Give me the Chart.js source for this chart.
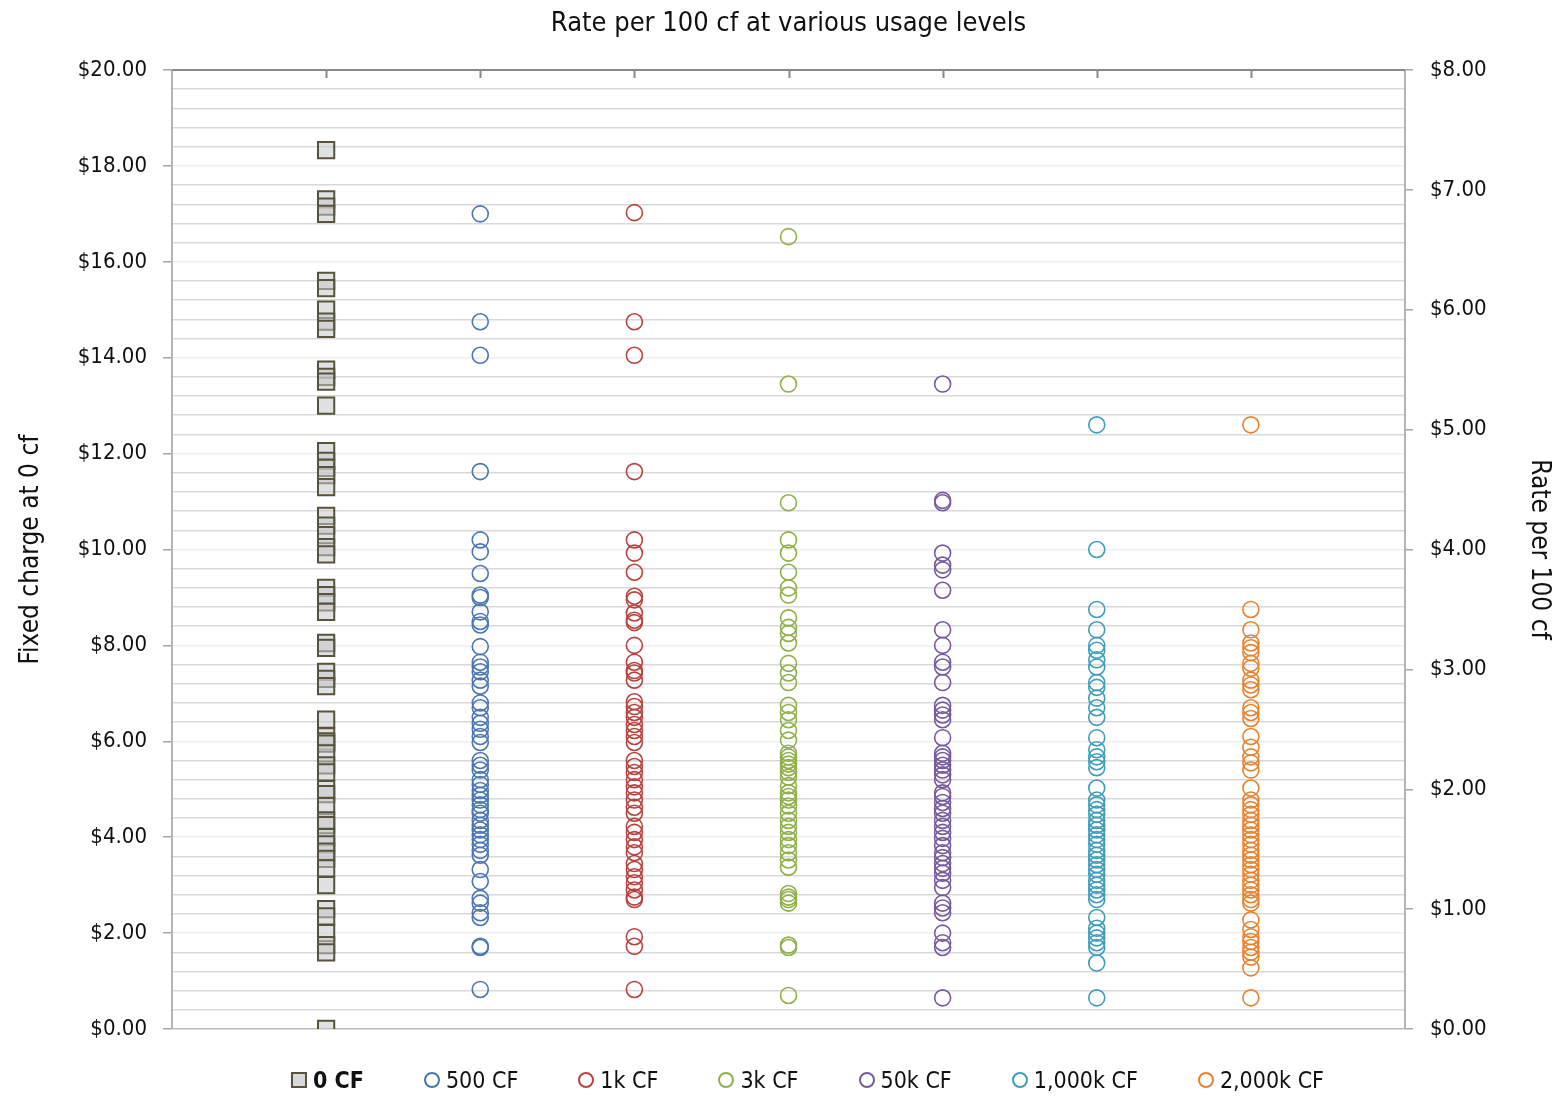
<!DOCTYPE html>
<html>
<head>
<meta charset="utf-8">
<script src="https://cdn.jsdelivr.net/npm/chart.js@4"></script>
<style>
body { margin: 0; background: #fff; }
#wrap { position: relative; width: 1564px; height: 1099px; }
#legend { position: absolute; left: 291px; top: 1067px; display: flex; align-items: center; gap: 60px;
  font-family: 'Liberation Sans Narrow', 'Arial Narrow', 'DejaVu Sans Condensed', sans-serif; font-size: 23px; color: #111; }
#legend .item { display: flex; align-items: center; gap: 6px; white-space: nowrap; }
#legend .mk { width: 13px; height: 13px; box-sizing: border-box; }
</style>
</head>
<body>
<div id="wrap">
  <canvas id="myChart"></canvas>
  <div id="legend"></div>
</div>
<script>
var FONT = "'Liberation Sans Narrow', 'Arial Narrow', 'DejaVu Sans Condensed', sans-serif";

var seriesNames = ['0 CF', '500 CF', '1k CF', '3k CF', '50k CF', '1,000k CF', '2,000k CF'];
var seriesColors = ['#58533c', '#4a76b4', '#b8423f', '#8fb04b', '#765a9e', '#3f9db9', '#e7832f'];

// fixed charge at 0 cf (left axis, $)
var fixed0 = [18.33, 17.3, 17.15, 17.0, 15.6, 15.45, 15.0, 14.75, 14.6, 13.75, 13.6, 13.5, 13.0,
  12.05, 11.85, 11.7, 11.55, 11.3, 10.7, 10.5, 10.3, 10.05, 9.9, 9.2, 9.05, 8.9, 8.7, 8.05, 7.95,
  7.45, 7.3, 7.15, 6.45, 6.1, 6.0, 5.95, 5.75, 5.5, 5.35, 5.0, 4.9, 4.65, 4.35, 4.25, 4.0, 3.85,
  3.7, 3.55, 3.35, 3.0, 2.5, 2.35, 2.0, 1.75, 1.6, 0];

// rate per 100 cf (right axis, $)
var rate500 = [6.8, 5.9, 5.62, 4.65, 4.08, 3.98, 3.8, 3.62, 3.6, 3.48, 3.4, 3.37, 3.19, 3.06, 3.02,
  2.98, 2.91, 2.86, 2.72, 2.68, 2.6, 2.55, 2.5, 2.44, 2.39, 2.24, 2.2, 2.16, 2.08, 2.04, 1.99, 1.95,
  1.91, 1.87, 1.83, 1.8, 1.74, 1.7, 1.66, 1.62, 1.58, 1.54, 1.49, 1.45, 1.33, 1.23, 1.09, 1.05,
  0.97, 0.93, 0.69, 0.68, 0.33];
var rate1k = [6.81, 5.9, 5.62, 4.65, 4.08, 3.97, 3.81, 3.61, 3.58, 3.47, 3.41, 3.39, 3.2, 3.06, 2.99,
  2.97, 2.91, 2.73, 2.69, 2.64, 2.6, 2.54, 2.49, 2.44, 2.39, 2.24, 2.19, 2.14, 2.08, 2.02, 1.97,
  1.91, 1.85, 1.8, 1.69, 1.64, 1.58, 1.52, 1.47, 1.38, 1.33, 1.27, 1.22, 1.16, 1.1, 1.08, 0.77,
  0.69, 0.33];
var rate3k = [6.61, 5.38, 4.39, 4.08, 3.97, 3.81, 3.68, 3.62, 3.43, 3.35, 3.3, 3.22, 3.05, 2.97, 2.89,
  2.7, 2.64, 2.58, 2.49, 2.41, 2.3, 2.27, 2.24, 2.21, 2.18, 2.14, 2.1, 2.03, 1.97, 1.94, 1.91, 1.86,
  1.8, 1.74, 1.69, 1.64, 1.58, 1.53, 1.47, 1.41, 1.35, 1.13, 1.1, 1.08, 1.05, 0.7, 0.68, 0.28];
var rate50k = [5.38, 4.41, 4.39, 3.97, 3.87, 3.83, 3.66, 3.33, 3.2, 3.06, 3.02, 2.89, 2.7, 2.66, 2.62,
  2.58, 2.43, 2.3, 2.27, 2.24, 2.2, 2.16, 2.12, 2.08, 1.97, 1.94, 1.89, 1.84, 1.8, 1.74, 1.69, 1.64,
  1.59, 1.53, 1.47, 1.43, 1.38, 1.34, 1.3, 1.24, 1.18, 1.05, 1.01, 0.97, 0.8, 0.72, 0.68, 0.26];
var rate1000k = [5.04, 4.0, 3.5, 3.33, 3.2, 3.16, 3.08, 3.02, 2.89, 2.85, 2.76, 2.68, 2.6, 2.43, 2.33,
  2.27, 2.23, 2.18, 2.01, 1.91, 1.87, 1.83, 1.79, 1.74, 1.7, 1.66, 1.62, 1.58, 1.54, 1.49, 1.45,
  1.41, 1.37, 1.33, 1.29, 1.24, 1.2, 1.16, 1.12, 1.08, 0.93, 0.84, 0.8, 0.76, 0.72, 0.68, 0.55, 0.26];
var rate2000k = [5.04, 3.5, 3.33, 3.22, 3.18, 3.14, 3.05, 3.01, 2.91, 2.87, 2.83, 2.68, 2.64, 2.59,
  2.44, 2.35, 2.27, 2.22, 2.16, 2.01, 1.91, 1.87, 1.83, 1.79, 1.74, 1.7, 1.66, 1.62, 1.58, 1.54,
  1.49, 1.45, 1.41, 1.37, 1.33, 1.29, 1.24, 1.2, 1.16, 1.12, 1.08, 1.05, 0.91, 0.83, 0.77, 0.73,
  0.68, 0.64, 0.6, 0.51, 0.26];

var allSeries = [fixed0, rate500, rate1k, rate3k, rate50k, rate1000k, rate2000k];

function isMajor(v, step) {
  return Math.abs(v / step - Math.round(v / step)) < 1e-6;
}

var datasets = allSeries.map(function(vals, i){
  var pts = vals.map(function(v){ return {x: i + 1, y: v}; });
  if (i === 0) {
    return {
      label: seriesNames[i], data: pts, yAxisID: 'y',
      pointStyle: 'rect', pointRadius: 11.5, pointHoverRadius: 11.5,
      backgroundColor: 'rgba(200,200,200,0.55)', borderColor: seriesColors[i], pointBorderWidth: 2
    };
  }
  return {
    label: seriesNames[i], data: pts, yAxisID: 'y2',
    pointStyle: 'circle', pointRadius: 8, pointHoverRadius: 8,
    backgroundColor: 'rgba(0,0,0,0)', borderColor: seriesColors[i], pointBorderWidth: 1.6
  };
});

// top frame line with inward category tick marks
var topFrame = {
  id: 'topFrame',
  afterDatasetsDraw: function(chart){
    var ca = chart.chartArea, xs = chart.scales.x, c = chart.ctx;
    c.save();
    c.strokeStyle = '#8a8a8a';
    c.lineWidth = 2;
    c.beginPath();
    c.moveTo(ca.left, ca.top);
    c.lineTo(ca.right, ca.top);
    for (var k = 1; k <= seriesNames.length; k++) {
      var px = Math.round(xs.getPixelForValue(k)) + 0.5;
      c.moveTo(px, ca.top);
      c.lineTo(px, ca.top + 8);
    }
    c.stroke();
    c.restore();
  }
};

var ctx = document.getElementById('myChart').getContext('2d');
var myChart = new Chart(ctx, {
  type: 'scatter',
  data: { datasets: datasets },
  plugins: [topFrame],
  options: {
    responsive: true,
    maintainAspectRatio: false,
    animation: false,
    layout: { padding: { top: 0, bottom: 70, left: 0, right: 0 } },
    plugins: {
      legend: { display: false },
      tooltip: { enabled: false },
      title: {
        display: true,
        fullSize: false,
        text: 'Rate per 100 cf at various usage levels',
        color: '#111',
        font: { family: FONT, size: 27, weight: 'normal' },
        padding: { top: 8, bottom: 29.6 }
      }
    },
    scales: {
      x: {
        type: 'linear', min: 0, max: 8, display: false
      },
      y: {
        position: 'left', min: 0, max: 20,
        afterFit: function(s){ s.width = 172; },
        ticks: {
          stepSize: 0.4, maxTicksLimit: 100, autoSkip: false, padding: 16,
          color: '#111', font: { family: FONT, size: 22 },
          callback: function(v){ return isMajor(v, 2) ? '$' + v.toFixed(2) : ''; }
        },
        grid: {
          lineWidth: 1.5,
          tickLength: 9,
          color: function(c){
            var v = c.tick ? c.tick.value : 0;
            if (v === 0) return '#bcbcbc';
            return isMajor(v, 2) ? '#f0f0f0' : '#d9d9d9';
          },
          tickColor: function(c){
            var v = c.tick ? c.tick.value : 0;
            return isMajor(v, 2) ? '#a6a6a6' : 'rgba(0,0,0,0)';
          }
        },
        border: { color: '#b4b4b4', width: 2 },
        title: {
          display: true, text: 'Fixed charge at 0 cf', color: '#111',
          font: { family: FONT, size: 26 }, padding: { top: 16, bottom: 0 }
        }
      },
      y2: {
        position: 'right', min: 0, max: 8,
        afterFit: function(s){ s.width = 159; },
        ticks: {
          stepSize: 1, padding: 17, color: '#111', font: { family: FONT, size: 22 },
          callback: function(v){ return '$' + v.toFixed(2); }
        },
        grid: { drawOnChartArea: false, tickLength: 8, tickColor: '#a6a6a6', lineWidth: 1.5 },
        border: { color: '#b4b4b4', width: 2 },
        title: {
          display: true, text: 'Rate per 100 cf', color: '#111',
          font: { family: FONT, size: 26 }, padding: { top: 10, bottom: 0 }
        }
      }
    }
  }
});

// legend under the plot
var legend = document.getElementById('legend');
seriesNames.forEach(function(name, i){
  var item = document.createElement('div');
  item.className = 'item';
  var mk = document.createElement('span');
  mk.className = 'mk';
  mk.style.border = '2px solid ' + seriesColors[i];
  mk.style.width = '16px';
  mk.style.height = '16px';
  if (i === 0) {
    mk.style.background = '#d9d9d9';
  } else {
    mk.style.borderRadius = '50%';
  }
  var tx = document.createElement('span');
  tx.textContent = name;
  if (i === 0) tx.style.fontWeight = 'bold';
  item.appendChild(mk);
  item.appendChild(tx);
  legend.appendChild(item);
});
</script>
</body>
</html>
